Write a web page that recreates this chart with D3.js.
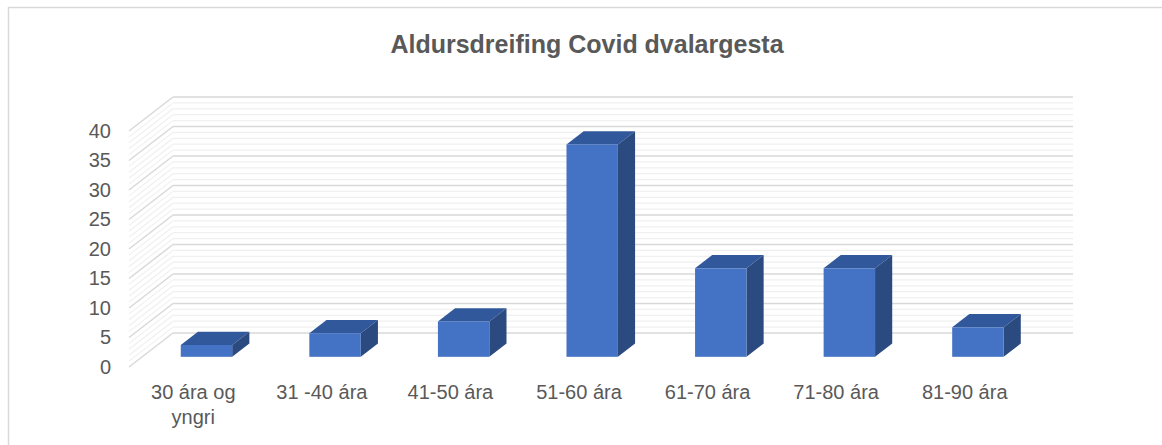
<!DOCTYPE html>
<html>
<head>
<meta charset="utf-8">
<script src="https://cdn.jsdelivr.net/npm/d3@7"></script>
<style>
  body { margin: 0; background: #fff; }
  text { font-family: "Liberation Sans", Arial, sans-serif; }
</style>
</head>
<body>
<div id="chart"></div>
<script>
// data
var categories = ["30 ára og yngri", "31 -40 ára", "41-50 ára", "51-60 ára", "61-70 ára", "71-80 ára", "81-90 ára"];
var values = [2, 4, 6, 36, 15, 15, 5];
var yTicks = [0, 5, 10, 15, 20, 25, 30, 35, 40];
var title = "Aldursdreifing Covid dvalargesta";

var svgWidth = 1162, svgHeight = 445;

var svg = d3.select('#chart').append('svg')
  .attr('width', svgWidth)
  .attr('height', svgHeight);

// chart border
svg.append("rect")
  .attr("x", 8.5).attr("y", 7.5)
  .attr("width", 1200).attr("height", 500)
  .attr("fill", "none")
  .attr("stroke", "#d9d9d9")
  .attr("stroke-width", 1.5);

svg.append("text")
  .attr("x", 587).attr("y", 53)
  .attr("text-anchor", "middle")
  .attr("font-size", 25)
  .attr("font-weight", "bold")
  .attr("fill", "#595959")
  .text(title);

// front plane of the 3d box
var left = 129, right = 1029;
var depthX = 44, depthY = -34;   // offset of back wall

var x = d3.scaleBand()
  .domain(categories)
  .range([left, right])
  .paddingInner(0.6)
  .paddingOuter(0.3);

var y = d3.scaleLinear()
  .domain([0, 40])
  .range([367, 131]);

// walls: minor lines each unit, major each 5
var grid = svg.append("g");
d3.range(0, 41).forEach(function(v) {
  var major = v % 5 === 0;
  var col = major ? "#d9d9d9" : "#f0f0f0";
  var sw = major ? 1.5 : 1.2;
  grid.append("line")
    .attr("x1", left + depthX).attr("x2", right + depthX)
    .attr("y1", y(v) + depthY).attr("y2", y(v) + depthY)
    .attr("stroke", col).attr("stroke-width", sw);
  grid.append("line")
    .attr("x1", left).attr("x2", left + depthX)
    .attr("y1", y(v)).attr("y2", y(v) + depthY)
    .attr("stroke", col).attr("stroke-width", sw);
});

// bars sit between these fractions of the depth
var f1 = 0.3, f2 = 0.69;
var bars = svg.append("g");
categories.forEach(function(c, i) {
  var x0 = x(c) + f1 * depthX, x1 = x0 + x.bandwidth();
  var ox = (f2 - f1) * depthX, oy = (f2 - f1) * depthY;
  var yb = y(0) + f1 * depthY, yt = y(values[i]) + f1 * depthY;
  var g = bars.append("g");
  g.append("path")
    .attr("d", "M" + x0 + "," + yt + "L" + x1 + "," + yt + "L" + (x1 + ox) + "," + (yt + oy) + "L" + (x0 + ox) + "," + (yt + oy) + "Z")
    .attr("fill", "#31589b");
  g.append("path")
    .attr("d", "M" + x1 + "," + yt + "L" + (x1 + ox) + "," + (yt + oy) + "L" + (x1 + ox) + "," + (yb + oy) + "L" + x1 + "," + yb + "Z")
    .attr("fill", "#2b4a7f");
  g.append("rect")
    .attr("x", x0).attr("y", yt)
    .attr("width", x.bandwidth()).attr("height", yb - yt)
    .attr("fill", "#4472c4");
});

// axes
var yAxis = svg.append("g")
  .attr("transform", "translate(" + left + ",0)")
  .call(d3.axisLeft(y).tickValues(yTicks).tickSize(0).tickPadding(18));
yAxis.select(".domain").remove();
yAxis.selectAll("text").attr("font-size", 20).attr("fill", "#595959").attr("font-family", null);

var xAxis = svg.append("g")
  .attr("transform", "translate(0," + y(0) + ")")
  .call(d3.axisBottom(x).tickSize(0).tickPadding(18));
xAxis.select(".domain").remove();
xAxis.selectAll("text").attr("font-size", 20).attr("fill", "#595959").attr("font-family", null)
  .call(wrap, x.step());

function wrap(texts, width) {
  texts.each(function() {
    var text = d3.select(this);
    var words = text.text().split(/\s+/);
    var yy = text.attr("y"), dy = parseFloat(text.attr("dy"));
    var line = [], lineNo = 0;
    var tspan = text.text(null).append("tspan").attr("x", 0).attr("y", yy).attr("dy", dy + "em");
    words.forEach(function(w) {
      line.push(w);
      tspan.text(line.join(" "));
      if (tspan.node().getComputedTextLength() > width - 4 && line.length > 1) {
        line.pop();
        tspan.text(line.join(" "));
        line = [w];
        tspan = text.append("tspan").attr("x", 0).attr("y", yy)
          .attr("dy", (++lineNo * 1.25 + dy) + "em").text(w);
      }
    });
  });
}
</script>
</body>
</html>
